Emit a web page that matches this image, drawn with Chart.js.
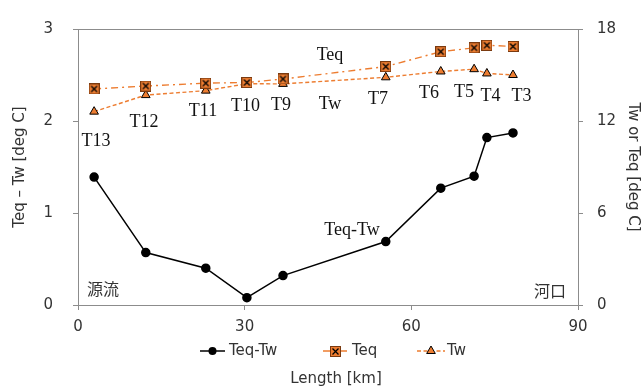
<!DOCTYPE html>
<html>
<head>
<meta charset="utf-8">
<script src="https://cdn.jsdelivr.net/npm/chart.js@4/dist/chart.umd.min.js"></script>
<style>
  html, body { margin: 0; padding: 0; background: #fff; }
  #wrap { width: 644px; height: 386px; }
</style>
</head>
<body>
<div id="wrap"><canvas id="chart"></canvas></div>
<script>
// 観測点と流下距離
const stations = ['T13', 'T12', 'T11', 'T10', 'T9', 'T7', 'T6', 'T5', 'T4', 'T3'];
const lengthKm = [2.9, 12.2, 23.0, 30.4, 36.9, 55.4, 65.3, 71.3, 73.6, 78.3];
// 左軸: Teq - Tw
const teqMinusTw = [1.39, 0.57, 0.40, 0.08, 0.32, 0.69, 1.27, 1.40, 1.82, 1.87];
// 右軸: Teq, Tw
const teq = [14.09, 14.28, 14.47, 14.51, 14.74, 15.55, 16.52, 16.77, 16.94, 16.86];
const tw = [12.61, 13.69, 13.98, 14.43, 14.42, 14.85, 15.23, 15.38, 15.10, 15.00];
const seriesNames = ['Teq-Tw', 'Teq', 'Tw'];

// 図中の文字 (x: km, y: 右軸の値)
const notes = [
  { text: 'T13', x: 3.24, y: 10.68 },
  { text: 'T12', x: 11.88, y: 11.91 },
  { text: 'T11', x: 22.5, y: 12.61 },
  { text: 'T10', x: 30.15, y: 12.99 },
  { text: 'T9', x: 36.54, y: 13.04 },
  { text: 'Tw', x: 45.36, y: 13.12 },
  { text: 'Teq', x: 45.36, y: 16.29 },
  { text: 'T7', x: 54.0, y: 13.43 },
  { text: 'T6', x: 63.18, y: 13.78 },
  { text: 'T5', x: 69.48, y: 13.88 },
  { text: 'T4', x: 74.25, y: 13.62 },
  { text: 'T3', x: 79.83, y: 13.62 },
  { text: 'Teq-Tw', x: 49.32, y: 4.88 }
];
const cjkNotes = [
  { text: '源流', x: 4.5, y: 1.08 },
  { text: '河口', x: 84.96, y: 0.95 }
];

const ORANGE = '#ED7D31';
const AXIS = '#8c8c8c';
const TXT = '#333';
const FONT = 'DejaVu Sans, Verdana, sans-serif';

// Teq のマーカー (オレンジの四角に×)
const teqMarker = document.createElement('canvas');
teqMarker.width = 11; teqMarker.height = 11;
(() => {
  const c = teqMarker.getContext('2d');
  c.fillStyle = ORANGE;
  c.fillRect(0.5, 0.5, 10, 10);
  c.strokeStyle = '#7a3a10';
  c.lineWidth = 1;
  c.strokeRect(0.5, 0.5, 10, 10);
  c.strokeStyle = '#000';
  c.lineWidth = 1.3;
  c.beginPath();
  c.moveTo(2.5, 2.5); c.lineTo(8.5, 8.5);
  c.moveTo(8.5, 2.5); c.lineTo(2.5, 8.5);
  c.stroke();
})();

const toXY = (xs, ys) => xs.map((x, i) => ({ x: x, y: ys[i] }));

// 凡例の配置 [線の始点, 線の終点, 文字の始点]
const legendSlots = [[200, 225, 229], [323, 347, 352], [417, 445, 447]];

const overlay = {
  id: 'overlay',
  afterDraw(chart) {
    const ctx = chart.ctx;
    const { left, right, top } = chart.chartArea;
    const sx = chart.scales.x, sy = chart.scales.y2;
    ctx.save();
    // 上枠
    ctx.strokeStyle = AXIS;
    ctx.lineWidth = 1;
    ctx.beginPath();
    ctx.moveTo(left - 5, Math.round(top) + 0.5);
    ctx.lineTo(right, Math.round(top) + 0.5);
    ctx.stroke();

    ctx.textAlign = 'center';
    ctx.textBaseline = 'middle';
    ctx.fillStyle = '#111';
    ctx.font = '18px "Liberation Serif", "Times New Roman", serif';
    notes.forEach(n => ctx.fillText(n.text, sx.getPixelForValue(n.x), sy.getPixelForValue(n.y)));
    ctx.fillStyle = TXT;
    ctx.font = '16px "Noto Sans CJK JP", sans-serif';
    cjkNotes.forEach(n => ctx.fillText(n.text, sx.getPixelForValue(n.x), sy.getPixelForValue(n.y)));

    // 凡例
    const ly = 351;
    ctx.font = '15px ' + FONT;
    ctx.textAlign = 'left';
    chart.data.datasets.forEach((ds, i) => {
      const [x0, x1, tx] = legendSlots[i];
      ctx.strokeStyle = ds.borderColor;
      ctx.lineWidth = ds.borderWidth;
      ctx.setLineDash(ds.borderDash || []);
      ctx.beginPath();
      ctx.moveTo(x0, ly); ctx.lineTo(x1, ly);
      ctx.stroke();
      ctx.setLineDash([]);
      const cx = (x0 + x1) / 2;
      if (ds.pointStyle === 'circle') {
        ctx.fillStyle = '#000';
        ctx.beginPath(); ctx.arc(cx, ly, 4, 0, Math.PI * 2); ctx.fill();
      } else if (ds.pointStyle === 'triangle') {
        const r = 5;
        ctx.fillStyle = ORANGE; ctx.strokeStyle = '#000'; ctx.lineWidth = 1;
        ctx.beginPath();
        ctx.moveTo(cx, ly - r);
        ctx.lineTo(cx + r * 0.866, ly + r / 2);
        ctx.lineTo(cx - r * 0.866, ly + r / 2);
        ctx.closePath(); ctx.fill(); ctx.stroke();
      } else {
        ctx.drawImage(teqMarker, Math.round(cx - 5.5), Math.round(ly - 5.5));
      }
      ctx.fillStyle = TXT;
      ctx.fillText(ds.label, tx, ly);
    });

    // 横軸タイトル
    ctx.textAlign = 'center';
    ctx.fillText('Length [km]', 336, 379);
    ctx.restore();
  }
};

new Chart(document.getElementById('chart'), {
  type: 'line',
  data: {
    datasets: [
      {
        label: seriesNames[0],
        data: toXY(lengthKm, teqMinusTw),
        yAxisID: 'y',
        borderColor: '#000',
        borderWidth: 1.5,
        pointStyle: 'circle',
        pointRadius: 4,
        pointBackgroundColor: '#000',
        pointBorderColor: '#000',
        order: 3
      },
      {
        label: seriesNames[1],
        data: toXY(lengthKm, teq),
        yAxisID: 'y2',
        borderColor: ORANGE,
        borderWidth: 1.4,
        borderDash: [7, 4, 2, 4],
        pointStyle: teqMarker,
        order: 1
      },
      {
        label: seriesNames[2],
        data: toXY(lengthKm, tw),
        yAxisID: 'y2',
        borderColor: ORANGE,
        borderWidth: 1.4,
        borderDash: [4, 2.5],
        pointStyle: 'triangle',
        pointRadius: 5,
        pointBackgroundColor: ORANGE,
        pointBorderColor: '#000',
        pointBorderWidth: 1,
        order: 2
      }
    ]
  },
  options: {
    responsive: true,
    maintainAspectRatio: false,
    animation: false,
    layout: { padding: { top: 21 } },
    plugins: { legend: { display: false }, tooltip: { enabled: false } },
    scales: {
      x: {
        type: 'linear',
        min: 0, max: 90,
        afterFit: s => { s.height = 81; },
        afterBuildTicks: s => { s.ticks = [0, 30, 60, 90].map(v => ({ value: v })); },
        grid: { drawOnChartArea: false, tickLength: 5, color: AXIS },
        border: { color: AXIS },
        ticks: { padding: 8, color: TXT, font: { family: FONT, size: 15 } }
      },
      y: {
        position: 'left',
        min: 0, max: 3,
        afterFit: s => { s.width = 78; },
        grid: { drawOnChartArea: false, tickLength: 5, color: AXIS },
        border: { color: AXIS },
        ticks: { stepSize: 1, padding: 20, color: TXT, font: { family: FONT, size: 15 } },
        title: { display: true, text: 'Teq – Tw [deg C]', color: TXT, padding: { top: 11 }, font: { family: FONT, size: 15 } }
      },
      y2: {
        position: 'right',
        min: 0, max: 18,
        afterFit: s => { s.width = 66; },
        grid: { drawOnChartArea: false, tickLength: 5, color: AXIS },
        border: { color: AXIS },
        ticks: { stepSize: 6, padding: 14, color: TXT, font: { family: FONT, size: 15 } },
        title: { display: true, text: 'Tw or Teq [deg C]', color: TXT, padding: { top: 2 }, font: { family: FONT, size: 15 } }
      }
    }
  },
  plugins: [overlay]
});
</script>
</body>
</html>
